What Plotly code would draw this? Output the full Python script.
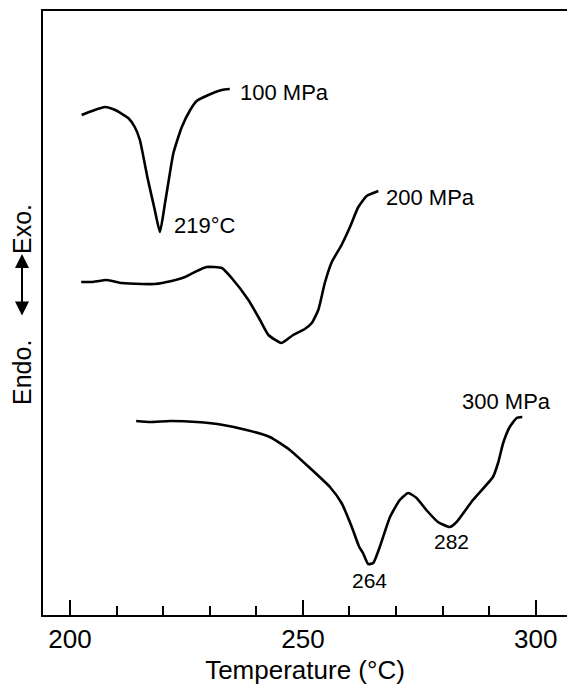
import plotly.graph_objects as go

# ---- data (temperature in °C, DSC signal in arbitrary units) ----
t_100 = [202.5, 204.7, 207.5, 209.7, 212.5, 213.9, 215.0, 216.6, 218.2, 219.3,
         220.4, 221.1, 222.2, 224.0, 225.8, 227.2, 229.7, 232.6, 234.3]
s_100 = [50.0, 50.4, 50.8, 50.5, 49.7, 48.8, 47.5, 43.8, 40.5, 38.3,
         41.2, 43.2, 46.2, 48.8, 50.5, 51.4, 52.0, 52.5, 52.6]

t_200 = [202.4, 204.7, 207.9, 211.1, 215.4, 218.2, 221.8, 224.7, 226.8, 229.3, 232.6,
         234.7, 238.3, 240.8, 242.6, 245.4, 247.9, 250.4, 251.9, 253.3, 254.7, 256.2,
         258.3, 260.1, 261.9, 263.7, 266.2]
s_200 = [33.3, 33.3, 33.5, 33.2, 33.1, 33.1, 33.4, 33.8, 34.3, 34.8, 34.7,
         33.7, 31.5, 29.5, 28.0, 27.2, 28.0, 28.6, 29.2, 30.5, 33.2, 35.3,
         37.0, 38.8, 40.8, 41.9, 42.4]

t_300 = [214.2, 217.2, 221.5, 227.2, 232.9, 237.9, 242.9, 247.2, 251.5, 255.8, 258.3,
         260.5, 262.1, 262.9, 264.0, 265.1, 266.5, 268.7, 270.8, 272.6, 274.4, 276.5,
         279.0, 281.5, 283.0, 286.5, 290.8, 291.9, 293.0, 294.4, 295.9, 297.1]
s_300 = [19.4, 19.3, 19.4, 19.3, 19.0, 18.5, 17.8, 16.5, 14.7, 12.8, 11.2,
         8.8, 6.8, 6.2, 5.1, 5.2, 6.8, 9.8, 11.5, 12.2, 11.7, 10.5,
         9.3, 8.8, 9.3, 11.5, 13.8, 15.2, 17.2, 18.8, 19.7, 19.8]

label_text = ["100 MPa", "219°C", "200 MPa", "300 MPa", "264", "282"]
label_t = [236.1, 221.8, 267.4, 283.8, 264.3, 281.9]
label_s = [52.3, 39.0, 41.8, 21.4, 3.5, 7.4]

x_range = [194.2, 306.7]
y_range = [0, 60.4]
x_major = [200, 250, 300]
x_label = "Temperature (°C)"

FONT = "Liberation Sans, Arial, Helvetica, sans-serif"

fig = go.Figure()
for t, s in [(t_100, s_100), (t_200, s_200), (t_300, s_300)]:
    fig.add_trace(go.Scatter(x=t, y=s, mode="lines",
                             line=dict(color="black", width=2.6, shape="spline", smoothing=0.5),
                             showlegend=False, hoverinfo="skip"))

anchors = ["left", "left", "left", "left", "center", "center"]
sizes = [22, 22, 22, 22, 21, 21]
for txt, tx, sy, anc, sz in zip(label_text, label_t, label_s, anchors, sizes):
    fig.add_annotation(x=tx, y=sy, text=txt, showarrow=False, xanchor=anc, yanchor="middle",
                       font=dict(family=FONT, size=sz, color="black"))

# y-axis label: "Endo." <-> "Exo." with a double-headed arrow
lx = -21 / 524
fig.add_annotation(xref="paper", yref="paper", x=lx, y=(615 - 373) / 604, text="Endo.",
                   textangle=-90, showarrow=False, xanchor="center", yanchor="middle",
                   font=dict(family=FONT, size=25, color="black"))
fig.add_annotation(xref="paper", yref="paper", x=lx, y=(615 - 229) / 604, text="Exo.",
                   textangle=-90, showarrow=False, xanchor="center", yanchor="middle",
                   font=dict(family=FONT, size=25, color="black"))
fig.add_annotation(xref="paper", yref="paper", x=lx, y=(615 - 254) / 604, ax=0, ay=63,
                   text="", showarrow=True, arrowhead=2, startarrowhead=2, arrowside="end+start",
                   arrowsize=1.4, startarrowsize=1.4, arrowwidth=2, arrowcolor="black")

fig.update_layout(
    width=567, height=685,
    margin=dict(l=43, r=0, t=11, b=70),
    paper_bgcolor="white", plot_bgcolor="white",
    font=dict(family=FONT, color="black"),
    xaxis=dict(range=x_range, showgrid=False, zeroline=False,
               showline=True, linecolor="black", linewidth=2, mirror=True,
               tickmode="array", tickvals=x_major, ticks="inside", ticklen=15, tickwidth=2,
               tickcolor="black", tickfont=dict(size=26, family=FONT, color="black"),
               minor=dict(dtick=10, tick0=200, ticks="inside", ticklen=9, tickwidth=1.5,
                          tickcolor="black", showgrid=False),
               title=dict(text=x_label, font=dict(size=26, family=FONT, color="black"), standoff=11)),
    yaxis=dict(range=y_range, showgrid=False, zeroline=False, showticklabels=False,
               showline=True, linecolor="black", linewidth=2, ticks=""),
)

fig.write_html("out.html", config={"displayModeBar": False},
               post_script="document.body.style.margin='0';document.body.style.overflow='hidden';")
